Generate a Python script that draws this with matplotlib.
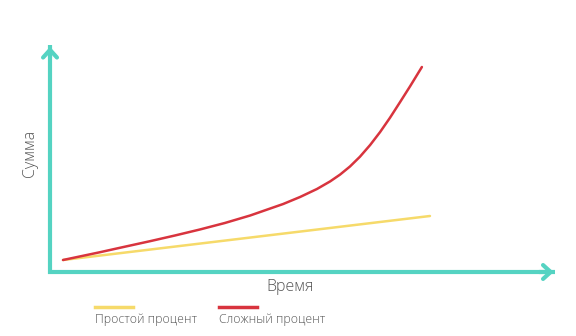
import matplotlib.pyplot as plt
import numpy as np

# time axis and the two curves
simple_t = [0, 10]
simple_sum = [100, 144]
compound_t = [0, 1.01, 1.55, 2.37, 3.05, 3.73, 4.41, 5.1, 6.0, 6.46, 6.92, 7.28,
              7.55, 7.82, 8.09, 8.37, 8.64, 8.91, 9.18, 9.46, 9.78]
compound_sum = [100, 107.8, 112.2, 118.8, 124.5, 130.5, 137, 144.5, 156, 163, 171, 178.6,
                185.4, 193.5, 203.2, 215, 227.9, 242.2, 257.6, 273.8, 293]

labels = ['Простой процент', 'Сложный процент']
x_label = 'Время'
y_label = 'Сумма'

TEAL = '#55d3c2'
YELLOW = '#f6da6a'
RED = '#d8343e'
GREY = '#555555'

plt.rcParams['font.family'] = ['Open Sans', 'DejaVu Sans']

fig = plt.figure(figsize=(5.76, 3.36), dpi=100)
ax = fig.add_axes([0, 0, 1, 1])
ax.set_xlim(-1.717, 13.98)
ax.set_ylim(24, 360)
ax.axis('off')

# axes with arrows
x0, y0 = -0.354, 88
ax.plot([x0, x0], [y0 - 2, 315], color=TEAL, lw=3, solid_capstyle='butt')
ax.plot([x0 - 0.05, 13.4], [y0, y0], color=TEAL, lw=3, solid_capstyle='butt')
ax.annotate('', xy=(x0, 316), xytext=(x0, 300),
            arrowprops=dict(arrowstyle='->,head_length=0.55,head_width=0.5', color=TEAL, lw=3))
ax.annotate('', xy=(13.45, y0), xytext=(12.9, y0),
            arrowprops=dict(arrowstyle='->,head_length=0.55,head_width=0.5', color=TEAL, lw=3))

ax.plot(simple_t, simple_sum, color=YELLOW, lw=1.8, solid_capstyle='round')
ax.plot(compound_t, compound_sum, color=RED, lw=1.8, solid_capstyle='round',
        solid_joinstyle='round')

ax.text(30 / 576, 1 - 153 / 336, y_label, transform=fig.transFigure, rotation=90,
        ha='center', va='center', fontsize=11.5, color=GREY, fontweight='light')
ax.text(290 / 576, 1 - 287 / 336, x_label, transform=fig.transFigure,
        ha='center', va='center', fontsize=11.5, color=GREY, fontweight='light')

# legend drawn by hand: line above the label
for col, lab, xs in [(YELLOW, labels[0], 95), (RED, labels[1], 219)]:
    ax.plot([xs / 576, (xs + 38) / 576], [1 - 307 / 336] * 2, transform=fig.transFigure,
            color=col, lw=2.5)
    ax.text(xs / 576, 1 - 320 / 336, lab, transform=fig.transFigure,
            ha='left', va='center', fontsize=8.8, color=GREY, fontweight='light')

fig.savefig('out.png', dpi=100)
